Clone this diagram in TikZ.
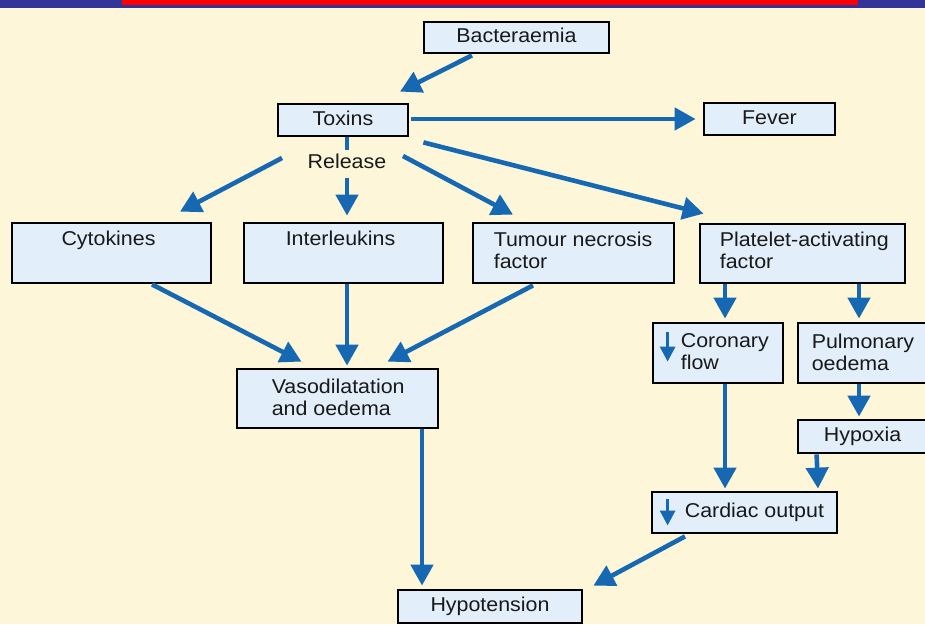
\documentclass[tikz,border=0pt]{standalone}
\usepackage{fontspec}
\setmainfont{Liberation Sans}[FakeStretch=1.07]
\usetikzlibrary{arrows.meta,calc}
\definecolor{cream}{RGB}{253,246,216}
\definecolor{boxblue}{RGB}{226,238,249}
\definecolor{flowblue}{RGB}{22,104,178}
\definecolor{bandblue}{RGB}{51,51,153}
\definecolor{bandred}{RGB}{255,0,0}
\definecolor{ink}{RGB}{25,25,25}
\newcommand\boxfont{\fontsize{20}{22}\selectfont}
\tikzset{
  box/.style={draw=black, line width=2.8pt, fill=boxblue, inner sep=0pt,
    font=\boxfont, text=ink, text height=14pt, text depth=4pt},
  txt/.style={inner sep=0pt, font=\boxfont, text=ink, text height=14pt, text depth=4pt},
  mtxt/.style={inner sep=0pt, font=\boxfont, text=ink, align=left},
  conn/.style={draw=flowblue, line width=4.6pt, -{Triangle[width=22pt,length=21pt]}},
  stem/.style={draw=flowblue, line width=4.6pt},
  glyph/.style={draw=flowblue, line width=3pt, -{Triangle[width=15pt,length=15pt]}}
}
\begin{document}
\begin{tikzpicture}[x=1pt,y=-1pt]
\useasboundingbox (0,0) rectangle (925,624);
% page background and title band
\fill[cream] (0,0) rectangle (925,624);
\fill[bandblue] (0,0) rectangle (925,7.5);
\fill[bandred] (122,0) rectangle (858,5);

% boxes
\node[box, minimum width=185pt, minimum height=31pt] (bact) at (516.5,37.5) {Bacteraemia};
\node[box, minimum width=130pt, minimum height=32pt] (tox) at (343,120) {Toxins};
\node[box, minimum width=131pt, minimum height=32pt] (fever) at (769.5,119) {Fever};
\node[box, minimum width=199pt, minimum height=60pt] (cyto) at (111.5,253) {};
\node[box, minimum width=199pt, minimum height=60pt] (inter) at (343.5,253) {};
\node[box, minimum width=201pt, minimum height=60pt] (tnf) at (573.5,253) {};
\node[box, minimum width=205pt, minimum height=59pt] (paf) at (802.5,253.5) {};
\node[box, minimum width=201pt, minimum height=59pt] (vaso) at (337.5,398.5) {};
\node[box, minimum width=130pt, minimum height=60pt] (coro) at (718,353) {};
\node[box, minimum width=129pt, minimum height=60pt] (pulm) at (862.5,353) {};
\node[box, minimum width=129pt, minimum height=33pt] (hyp) at (862.5,436.5) {Hypoxia};
\node[box, minimum width=185pt, minimum height=41pt] (card) at (744.5,512.5) {};
\node[box, minimum width=184pt, minimum height=33pt] (hypo) at (490,606.5) {Hypotension};

% box texts
\node[txt, anchor=north] (cytot) at ($(cyto.north)+(-3,10)$) {Cytokines};
\node[txt, anchor=north] (intert) at ($(inter.north)+(-3,10)$) {Interleukins};
\node[mtxt, anchor=north west] (tnft) at ($(tnf.north west)+(22,10)$) {Tumour necrosis\\factor};
\node[mtxt, anchor=north west] (paft) at ($(paf.north west)+(21,9)$) {Platelet-activating\\factor};
\node[mtxt, anchor=north west] (vasot) at ($(vaso.north west)+(36,11)$) {Vasodilatation\\and oedema};
\node[mtxt, anchor=north west] (corot) at ($(coro.north west)+(29,12)$) {Coronary\\flow};
\node[mtxt, anchor=north west] (pulmt) at ($(pulm.north west)+(15,12)$) {Pulmonary\\oedema};
\node[txt, anchor=west] (cardt) at ($(card.west)+(34,0)$) {Cardiac output};
\node[txt] (rel) at (347,163) {Release};

% decrease markers
\draw[glyph] ($(coro.north west)+(16,10)$) -- ($(coro.north west)+(16,40)$);
\draw[glyph] ($(card.west)+(17,-14)$) -- ($(card.west)+(17,13)$);

% connectors
\draw[conn] ($(bact.south)+(-44.5,1)$) -- ($(tox.north)+(57,-11)$);
\draw[conn] ($(tox.east)+(2,-1)$) -- ($(fever.west)+(-7,0)$);
\draw[stem] ($(tox.south)+(4,0)$) -- ($(rel.north)+(0,-4)$);
\draw[conn] ($(rel.south)+(0,6)$) -- ($(inter.north)+(3.5,-6)$);
\draw[conn] ($(rel.center)+(-65,-5)$) -- ($(cyto.north)+(68.5,-10)$);
\draw[conn] ($(rel.center)+(56,-7)$) -- ($(tnf.north)+(-60.5,-7)$);
\draw[conn] ($(tox.south east)+(14,5)$) -- ($(paf.north west)+(5,-9)$);
\draw[conn] ($(cyto.south)+(40.5,0)$) -- ($(vaso.north)+(-36,-6)$);
\draw[conn] ($(inter.south)+(3.5,0)$) -- ($(vaso.north)+(9.5,-2)$);
\draw[conn] ($(tnf.south)+(-40.5,1)$) -- ($(vaso.north)+(50,-6)$);
\draw[conn] ($(paf.south)+(-77.5,0)$) -- ($(coro.north)+(7,-3)$);
\draw[conn] ($(paf.south)+(56.5,0)$) -- ($(pulm.north)+(-3.5,-3)$);
\draw[conn] ($(coro.south)+(7,0)$) -- ($(card.north)+(-19.5,-2)$);
\draw[conn] ($(pulm.south)+(-3.5,0)$) -- ($(hyp.north)+(-3.5,-2)$);
\draw[conn] ($(hyp.south west)+(20,0)$) -- ($(card.north)+(73.5,-2)$);
\draw[conn] ($(vaso.south)+(84.5,0)$) -- ($(hypo.north)+(-68,-3)$);
\draw[conn] ($(card.south)+(-59.5,2)$) -- ($(hypo.north east)+(10,-3)$);
\end{tikzpicture}
\end{document}
